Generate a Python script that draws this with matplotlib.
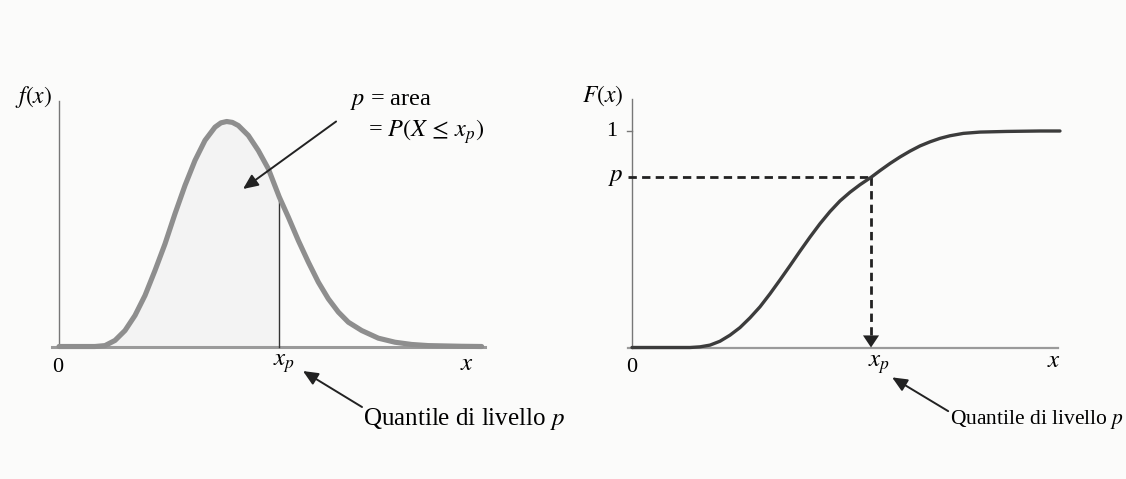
import numpy as np
import matplotlib.pyplot as plt

plt.rcParams['font.family'] = ['Liberation Serif', 'DejaVu Serif']
plt.rcParams['mathtext.fontset'] = 'stix'

# density f(x), sampled along the curve
dens_x = [0.0, 0.847, 1.082, 1.318, 1.553, 1.788, 2.024, 2.259, 2.494, 2.729, 2.965,
          3.200, 3.435, 3.671, 3.810, 3.945, 4.080, 4.220, 4.455, 4.690, 4.925, 5.184,
          5.396, 5.631, 5.867, 6.102, 6.337, 6.573, 6.808, 7.122, 7.514, 7.906,
          8.298, 8.690, 9.475, 9.945]
dens_y = [0.0, 0.0, 0.004, 0.027, 0.071, 0.138, 0.227, 0.338, 0.456, 0.590, 0.716,
          0.827, 0.916, 0.975, 0.994, 1.0, 0.996, 0.982, 0.938, 0.871, 0.790, 0.664,
          0.575, 0.471, 0.375, 0.286, 0.212, 0.153, 0.108, 0.071, 0.037, 0.019,
          0.009, 0.004, 0.001, 0.0]
xp_dens = 5.184

# distribution function F(x)
cdf_x = [0.0, 1.365, 1.600, 1.835, 2.071, 2.306, 2.541, 2.776, 3.012, 3.247, 3.482,
         3.718, 3.953, 4.188, 4.424, 4.659, 4.894, 5.129, 5.365, 5.624, 5.835,
         6.071, 6.306, 6.541, 6.776, 7.012, 7.247, 7.482, 7.796, 8.188, 8.816,
         9.600, 10.07]
cdf_y = [0.0, 0.0, 0.003, 0.011, 0.029, 0.057, 0.092, 0.137, 0.188, 0.248, 0.312,
         0.378, 0.445, 0.510, 0.572, 0.628, 0.677, 0.717, 0.752, 0.786, 0.817,
         0.850, 0.880, 0.907, 0.931, 0.950, 0.966, 0.978, 0.989, 0.995, 0.998,
         1.0, 1.0]
xp_cdf = 5.624
p_level = 0.786

W, H = 1126, 479
fig = plt.figure(figsize=(W / 100, H / 100), dpi=100)
fig.patch.set_facecolor('#fbfbfa')


def place(x0, y0, sx, sy, xlim, ylim):
    # axes whose origin sits at pixel (x0, y0), sx / sy pixels per unit
    left = (x0 + xlim[0] * sx) / W
    width = (xlim[1] - xlim[0]) * sx / W
    bottom = (H - y0 + ylim[0] * sy) / H
    height = (ylim[1] - ylim[0]) * sy / H
    ax = fig.add_axes([left, bottom, width, height])
    ax.set_xlim(xlim)
    ax.set_ylim(ylim)
    ax.axis('off')
    return ax


arrow_kw = dict(arrowstyle='-|>,head_length=0.45,head_width=0.2', color='#222222',
                lw=1.4, mutation_scale=20, shrinkA=0, shrinkB=0)

# ---- left panel: density ----
ax1 = place(59, 346.5, 42.5, 225, (-1.3, 10.6), (-0.6, 1.4))
dx = np.array(dens_x)
dy = np.array(dens_y)
fy = np.interp(xp_dens, dx, dy)

ax1.plot([0, 0], [0, 1.09], color='#777777', lw=1.0)
ax1.plot([-0.16, 10.02], [0, 0], color='#9a9a9a', lw=2.2)
mask = dx <= xp_dens
ax1.fill_between(dx[mask], 0, dy[mask], color='#f3f3f3', lw=0, zorder=1)
ax1.plot(dx, dy, color='#8e8e8e', lw=3.7, solid_capstyle='round',
         solid_joinstyle='round', zorder=3)
ax1.plot([xp_dens, xp_dens], [0, fy], color='#333333', lw=1.0, zorder=2)

ax1.text(-0.61, 1.109, '$f(x)$', fontsize=17, ha='center', va='center')
ax1.text(-0.02, -0.092, '0', fontsize=16, ha='center', va='center')
ax1.text(xp_dens + 0.1, -0.075, '$x_p$', fontsize=18, ha='center', va='center')
ax1.text(9.6, -0.078, '$x$', fontsize=18, ha='center', va='center')
ax1.text(6.85, 1.087, '$p$ = area', fontsize=17.5, ha='left', va='center')
ax1.text(7.27, 0.953, r'= $P(X\,\leq\,x_p)$', fontsize=17.5, ha='left', va='center')
ax1.annotate('', xy=(4.33, 0.70), xytext=(6.52, 1.0), arrowprops=arrow_kw)
ax1.annotate('', xy=(5.74, -0.109), xytext=(7.13, -0.269), arrowprops=arrow_kw)
ax1.text(7.15, -0.322, 'Quantile di livello $p$', fontsize=18, ha='left', va='center')

# ---- right panel: distribution function ----
ax2 = place(632, 347.5, 42.5, 216.5, (-1.3, 10.6), (-0.6, 1.4))
ax2.plot([0, 0], [0, 1.15], color='#777777', lw=1.0)
ax2.plot([-0.09, 10.02], [0, 0], color='#9a9a9a', lw=1.6)
ax2.plot([-0.12, 0], [1, 1], color='#777777', lw=1.0)
ax2.plot(cdf_x, cdf_y, color='#3c3c3c', lw=2.4, solid_capstyle='round',
         solid_joinstyle='round', zorder=3)

dash = (0, (3, 1.9))
ax2.plot([-0.1, xp_cdf], [p_level, p_level], color='#222222', lw=2.0, linestyle=dash)
ax2.plot([xp_cdf, xp_cdf], [p_level, 0.05], color='#222222', lw=2.0, linestyle=dash)
ax2.annotate('', xy=(xp_cdf, 0), xytext=(xp_cdf, 0.06),
             arrowprops=dict(arrowstyle='-|>,head_length=0.3,head_width=0.2',
                             color='#222222', lw=0, mutation_scale=29,
                             shrinkA=0, shrinkB=0))

ax2.text(-0.68, 1.163, '$F(x)$', fontsize=17, ha='center', va='center')
ax2.text(-0.47, 1.0, '1', fontsize=16, ha='center', va='center')
ax2.text(-0.38, p_level, '$p$', fontsize=18, ha='center', va='center')
ax2.text(0.0, -0.092, '0', fontsize=16, ha='center', va='center')
ax2.text(xp_cdf + 0.18, -0.078, '$x_p$', fontsize=18, ha='center', va='center')
ax2.text(9.93, -0.064, '$x$', fontsize=18, ha='center', va='center')
ax2.annotate('', xy=(6.12, -0.138), xytext=(7.44, -0.294), arrowprops=arrow_kw)
ax2.text(7.48, -0.331, 'Quantile di livello $p$', fontsize=15.5, ha='left', va='center')

fig.savefig('out.png', dpi=100, facecolor=fig.get_facecolor())
